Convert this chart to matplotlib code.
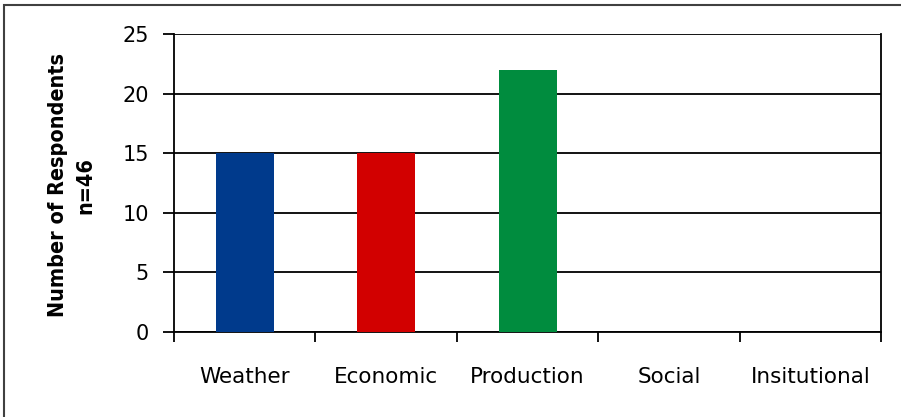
import matplotlib
matplotlib.use('Agg')
import matplotlib.pyplot as plt
from matplotlib.patches import Rectangle

categories = ['Weather', 'Economic', 'Production', 'Social', 'Insitutional']
respondents = [15, 15, 22, 0, 0]
bar_colors = ['#003A8C', '#D20000', '#008C3E', '#808080', '#808080']

fig = plt.figure(figsize=(9.01, 4.17), dpi=100)
ax = fig.add_axes([0.193, 0.204, 0.785, 0.714])

x = range(len(categories))
ax.bar(x, respondents, width=0.41, color=bar_colors, zorder=3)

ax.set_xlim(-0.5, len(categories) - 0.5)
ax.set_ylim(0, 25)
ax.set_yticks(range(0, 26, 5))
ax.yaxis.grid(True, color='black', linewidth=1.3, zorder=1)

# category boundaries carry the ticks, names sit between them
ax.set_xticks([i - 0.5 for i in range(len(categories) + 1)])
ax.set_xticklabels([])
ax.set_xticks(list(x), minor=True)
ax.set_xticklabels(categories, minor=True, fontsize=15.5)
ax.tick_params(axis='x', which='major', direction='out', length=7, width=1.3)
ax.tick_params(axis='x', which='minor', length=0, pad=25)
ax.tick_params(axis='y', direction='out', length=8, width=1.3, labelsize=15, pad=10)

for side in ['left', 'bottom', 'right']:
    ax.spines[side].set_linewidth(1.3)
ax.spines['top'].set_visible(False)

fig.text(72 / 901, 0.556, 'Number of Respondents\nn=46', rotation=90,
         ha='center', va='center', fontsize=15.5, fontweight='bold',
         fontstretch='condensed', linespacing=1.45)

# outer frame of the chart area
fig.patches.append(Rectangle((4 / 901, -0.1), 1.1, 1 - 5 / 417 + 0.1,
                             transform=fig.transFigure, fill=False,
                             edgecolor='#404040', linewidth=1.5))

fig.savefig('out.png', dpi=100)
